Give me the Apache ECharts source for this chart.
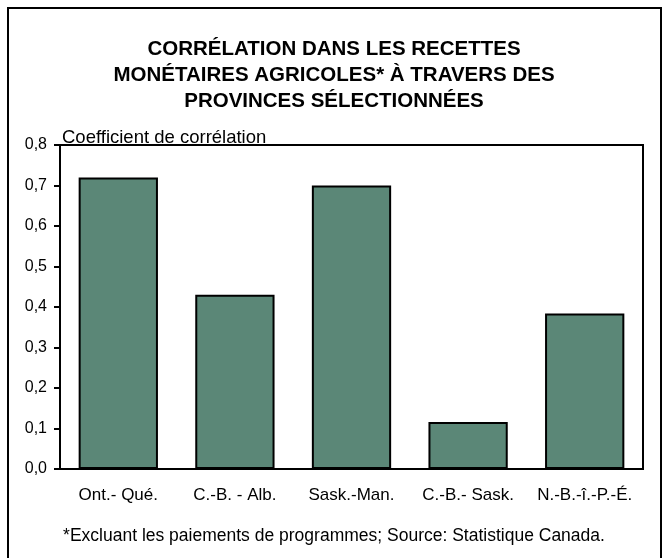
<!DOCTYPE html>
<html>
<head>
<meta charset="utf-8">
<script src="https://cdn.jsdelivr.net/npm/echarts@6/dist/echarts.min.js"></script>
<style>
  html, body { margin: 0; padding: 0; background: #fff; }
  #chart { width: 668px; height: 558px; }
</style>
</head>
<body>
<div id="chart"></div>
<script>
// données
const provinces = ['Ont.- Qué.', 'C.-B. - Alb.', 'Sask.-Man.', 'C.-B.- Sask.', 'N.-B.-î.-P.-É.'];
const correlation = [0.72, 0.43, 0.70, 0.116, 0.384];

const font = 'Liberation Sans, Arial, sans-serif';

let chart = echarts.init(document.getElementById('chart'));

let option = {
  backgroundColor: '#fff',
  animation: false,
  title: {
    text: 'CORRÉLATION DANS LES RECETTES\nMONÉTAIRES AGRICOLES* À TRAVERS DES\nPROVINCES SÉLECTIONNÉES',
    left: 'center',
    top: 31,
    textStyle: {
      fontFamily: font,
      fontSize: 20.5,
      fontWeight: 'bold',
      color: '#000',
      lineHeight: 26
    }
  },
  grid: {
    left: 60,
    right: 25,
    top: 145,
    bottom: 89,
    show: true,
    borderColor: '#000',
    borderWidth: 2,
    containLabel: false
  },
  xAxis: {
    type: 'category',
    data: provinces,
    axisLine: { show: true, lineStyle: { color: '#000', width: 2 } },
    axisTick: { show: false },
    axisLabel: {
      color: '#000',
      fontFamily: font,
      fontSize: 17,
      margin: 18,
      interval: 0
    }
  },
  yAxis: {
    type: 'value',
    min: 0,
    max: 0.8,
    interval: 0.1,
    name: 'Coefficient de corrélation',
    nameLocation: 'end',
    nameGap: -2,
    nameTextStyle: {
      color: '#000',
      fontFamily: font,
      fontSize: 18.5,
      align: 'left',
      padding: [0, 0, 0, 2]
    },
    splitLine: { show: false },
    axisLine: { show: true, lineStyle: { color: '#000', width: 2 } },
    axisTick: { show: true, length: 6, lineStyle: { color: '#000', width: 2 } },
    axisLabel: {
      color: '#000',
      fontFamily: font,
      fontSize: 16,
      margin: 13,
      formatter: function (v) {
        return v.toFixed(1).replace('.', ',');
      }
    }
  },
  series: [
    {
      type: 'bar',
      data: correlation,
      barWidth: '68%',
      itemStyle: {
        color: '#5b8777',
        borderColor: '#000',
        borderWidth: 2
      }
    }
  ],
  graphic: [
    {
      type: 'rect',
      shape: { x: 8, y: 8, width: 653, height: 600 },
      style: { fill: null, stroke: '#000', lineWidth: 2 },
      silent: true
    },
    {
      type: 'text',
      left: 'center',
      top: 527,
      style: {
        text: '*Excluant les paiements de programmes; Source: Statistique Canada.',
        fill: '#000',
        font: '17.5px ' + font
      }
    }
  ]
};

chart.setOption(option);
</script>
</body>
</html>
